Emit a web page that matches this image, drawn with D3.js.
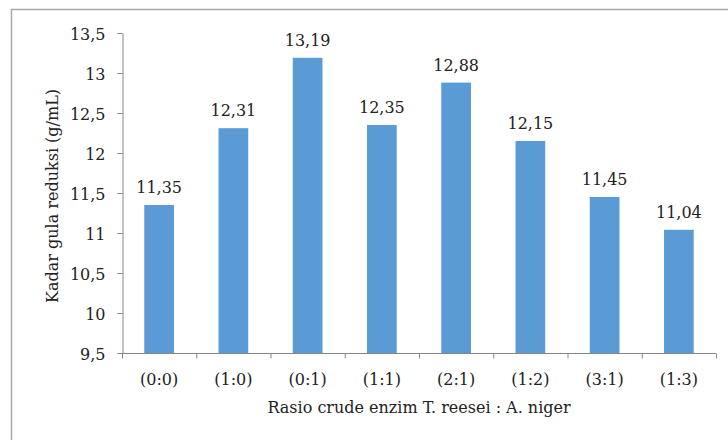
<!DOCTYPE html>
<html><head><meta charset="utf-8">
<script src="https://cdn.jsdelivr.net/npm/d3@7"></script>
<style>body{margin:0;background:#fff}svg{display:block}text{font-family:"DejaVu Serif","Liberation Serif",serif;fill:#222}</style>
</head><body>
<svg id="c" width="728" height="440"></svg>
<script>
const categories = ["(0:0)","(1:0)","(0:1)","(1:1)","(2:1)","(1:2)","(3:1)","(1:3)"];
const values = [11.35,12.31,13.19,12.35,12.88,12.15,11.45,11.04];
const yTicks = [9.5,10,10.5,11,11.5,12,12.5,13,13.5];
const yTitle = "Kadar gula reduksi (g/mL)";
const xTitle = "Rasio crude enzim T. reesei : A. niger";

const svg = d3.select("#c");
const fmt = v => String(v).replace(".", ",");
svg.append("rect").attr("x",11.5).attr("y",9.5).attr("width",760).attr("height",460)
  .attr("fill","#fff").attr("stroke","#a6a6a6").attr("stroke-width",1.5);

const x = d3.scaleBand().domain(categories).range([122,716]).paddingInner(0.6).paddingOuter(0.3);
const y = d3.scaleLinear().domain([9.5,13.5]).range([353,33]);

svg.selectAll("rect.bar").data(values).join("rect").attr("class","bar")
  .attr("x",(d,i)=>x(categories[i])).attr("width",x.bandwidth())
  .attr("y",d=>y(d)).attr("height",d=>y(9.5)-y(d)).attr("fill","#5b9bd5");

svg.selectAll("text.lbl").data(values).join("text").attr("class","lbl")
  .attr("x",(d,i)=>x(categories[i])+x.bandwidth()/2).attr("y",d=>y(d)-12)
  .attr("text-anchor","middle").attr("font-size",16).text(fmt);

const yAxis = svg.append("g").attr("transform","translate(122.5,0)")
  .call(d3.axisLeft(y).tickValues(yTicks).tickFormat(fmt).tickSize(5).tickSizeOuter(0));
yAxis.selectAll("text").attr("font-size",16).attr("x",-17).attr("dy","0.42em").attr("font-family","DejaVu Serif").attr("fill","#222");

const xTickPos = d3.range(categories.length+1).map(i => 122 + i*x.step());
const xAxis = svg.append("g").attr("transform","translate(0,353.5)");
xAxis.append("line").attr("x1",122).attr("x2",716).attr("stroke","#868686");
xAxis.selectAll("line.t").data(xTickPos).join("line").attr("class","t")
  .attr("x1",d=>d+0.5).attr("x2",d=>d+0.5).attr("y1",0).attr("y2",5).attr("stroke","#868686");
xAxis.selectAll("text").data(categories).join("text")
  .attr("x",d=>x(d)+x.bandwidth()/2).attr("y",31).attr("text-anchor","middle").attr("font-size",16).text(d=>d);

svg.selectAll(".domain, .tick line").attr("stroke","#868686");

svg.append("text").attr("x",419).attr("y",413).attr("text-anchor","middle").attr("font-size",16).text(xTitle);
svg.append("text").attr("transform","translate(58,196) rotate(-90)").attr("text-anchor","middle").attr("font-size",16).text(yTitle);
</script>
</body></html>
